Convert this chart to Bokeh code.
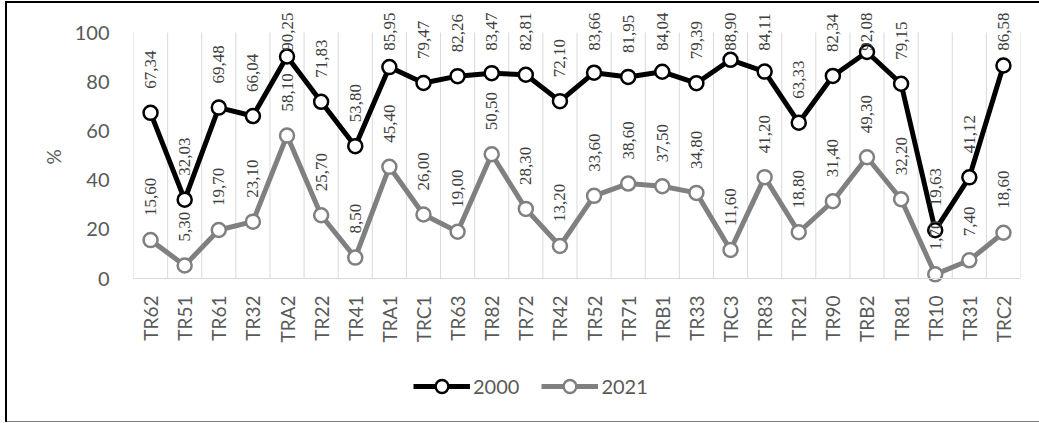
from bokeh.plotting import figure
from bokeh.models import (FactorRange, Range1d, FixedTicker, ColumnDataSource,
                          Legend, LegendItem, Title)
from bokeh.core.properties import value
from bokeh.embed import file_html
from bokeh.resources import INLINE
import math

regions = ["TR62", "TR51", "TR61", "TR32", "TRA2", "TR22", "TR41", "TRA1", "TRC1",
           "TR63", "TR82", "TR72", "TR42", "TR52", "TR71", "TRB1", "TR33", "TRC3",
           "TR83", "TR21", "TR90", "TRB2", "TR81", "TR10", "TR31", "TRC2"]
y2000 = [67.34, 32.03, 69.48, 66.04, 90.25, 71.83, 53.80, 85.95, 79.47, 82.26,
         83.47, 82.81, 72.10, 83.66, 81.95, 84.04, 79.39, 88.90, 84.11, 63.33,
         82.34, 92.08, 79.15, 19.63, 41.12, 86.58]
y2021 = [15.60, 5.30, 19.70, 23.10, 58.10, 25.70, 8.50, 45.40, 26.00, 19.00,
         50.50, 28.30, 13.20, 33.60, 38.60, 37.50, 34.80, 11.60, 41.20, 18.80,
         31.40, 49.30, 32.20, 1.70, 7.40, 18.60]
series_names = ["2000", "2021"]
y_ticks = [0, 20, 40, 60, 80, 100]
y_axis_title = "%"
y_axis_max = 100

# ---- layout geometry (page pixels) ----
W, H = 1039, 423
F_LEFT, F_RIGHT, F_TOP, F_BOTTOM = 133, 1020, 8, 415   # drawing frame
AXIS_TOP_PX, AXIS_ZERO_PX = 32, 278                     # where 100 % and 0 % sit
px_per_unit = (AXIS_ZERO_PX - AXIS_TOP_PX) / y_axis_max
y_top = (AXIS_ZERO_PX - F_TOP) / px_per_unit
y_bottom = -(F_BOTTOM - AXIS_ZERO_PX) / px_per_unit

AX_FONT = "Lato"
AX_COLOR = "#595959"
LBL_FONT_PX = 17

p = figure(width=W, height=H, output_backend="svg", toolbar_location=None,
           x_range=FactorRange(factors=regions, range_padding=0),
           y_range=Range1d(y_bottom, y_top),
           min_border_left=F_LEFT, min_border_right=W - F_RIGHT,
           min_border_top=F_TOP, min_border_bottom=H - F_BOTTOM)
p.outline_line_color = None
p.border_fill_color = None
p.styles = {
    "background": ("linear-gradient(#000,#000) 5px 1px / 2px 421px no-repeat, "
                   "linear-gradient(#000,#000) 5px 1px / 1034px 2px no-repeat, "
                   "linear-gradient(#7f7f7f,#7f7f7f) 5px 421px / 1034px 1px no-repeat, "
                   "#ffffff"),
}

p.xgrid.grid_line_color = None
p.ygrid.grid_line_color = None

# vertical gridlines between categories, from 0 to 100 %
bounds = list(range(len(regions) + 1))
p.segment(x0=bounds, y0=[0] * len(bounds), x1=bounds, y1=[y_axis_max] * len(bounds),
          line_color="#d9d9d9", line_width=1)

# category axis drawn at 0 %
p.xaxis.fixed_location = 0
p.xaxis.axis_line_color = "#d9d9d9"
p.xaxis.major_tick_line_color = None
p.xaxis.minor_tick_line_color = None
p.xaxis.major_tick_out = 0
p.xaxis.major_label_orientation = math.pi / 2
p.xaxis.major_label_text_font = AX_FONT
p.xaxis.major_label_text_font_size = "19px"
p.xaxis.major_label_text_color = AX_COLOR
p.xaxis.major_label_standoff = 17

p.yaxis.ticker = FixedTicker(ticks=y_ticks)
p.yaxis.bounds = (0, y_axis_max)
p.yaxis.axis_line_color = None
p.yaxis.major_tick_line_color = None
p.yaxis.minor_tick_line_color = None
p.yaxis.major_tick_out = 0
p.yaxis.major_label_text_font = AX_FONT
p.yaxis.major_label_text_font_size = "20px"
p.yaxis.major_label_text_color = AX_COLOR
p.yaxis.major_label_standoff = 24

# y-axis title, centred on the 0-100 % span
p.add_layout(Title(text=y_axis_title, align="left", offset=F_BOTTOM - 164,
                   text_font=AX_FONT, text_font_size="19px",
                   text_font_style="normal", text_color=AX_COLOR,
                   standoff=14), "left")


def label_offsets(vals, labels):
    """Excel-like 'above' labels, pushed down when they would leave the chart."""
    offs = []
    for v, s in zip(vals, labels):
        length = sum(LBL_FONT_PX * (0.25 if c == "," else 0.5) for c in s)
        marker_y = AXIS_ZERO_PX - v * px_per_unit
        off = -24
        if marker_y + off - length < 12:
            off = 12 + length - marker_y
        offs.append(off)
    return offs


items = []
for name, vals, color in [(series_names[0], y2000, "#000000"),
                          (series_names[1], y2021, "#808080")]:
    labs = [f"{v:.2f}".replace(".", ",") for v in vals]
    src = ColumnDataSource(dict(x=regions, y=vals, lab=labs,
                                off=label_offsets(vals, labs)))
    ln = p.line("x", "y", source=src, line_color=color, line_width=5,
                line_join="round")
    sc = p.scatter("x", "y", source=src, marker="circle", size=14,
                   fill_color="white", line_color=color, line_width=2.5)
    p.text("x", "y", text="lab", source=src, angle=math.pi / 2,
           text_align="left", text_baseline="middle", y_offset="off",
           text_font=value("Liberation Serif"),
           text_font_size=f"{LBL_FONT_PX}px", text_color="#404040")
    items.append(LegendItem(label=value(name), renderers=[ln, sc]))

# legend below the category labels (glyph row centred near y=386)
legend = Legend(items=items, orientation="horizontal",
                location=(413 - F_LEFT, F_BOTTOM - 402),
                glyph_width=57, glyph_height=32, label_standoff=3, spacing=22,
                padding=0, margin=0, border_line_color=None,
                background_fill_alpha=0,
                label_text_font=AX_FONT, label_text_font_size="20px",
                label_text_color=AX_COLOR)
p.add_layout(legend, "center")

open("out.html", "w").write(file_html(p, INLINE))
